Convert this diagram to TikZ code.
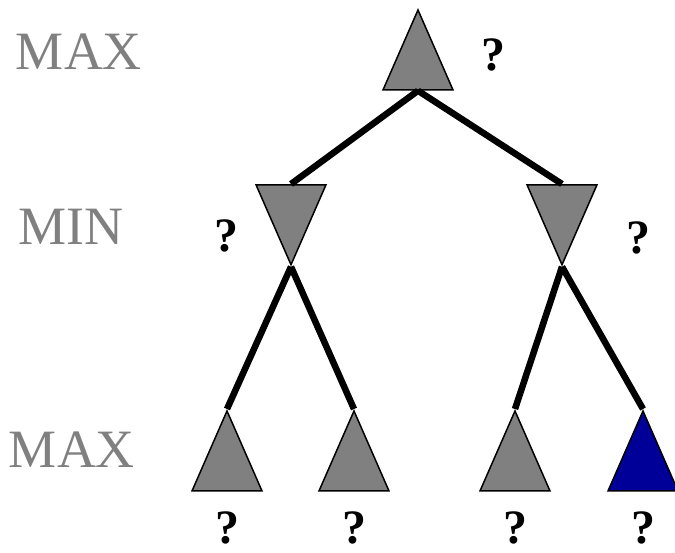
\documentclass[tikz,border=0pt]{standalone}
\usepackage{fontspec}
\setmainfont{Liberation Serif}
\usetikzlibrary{shapes.geometric}
\definecolor{nodegray}{RGB}{128,128,128}
\definecolor{nodeblue}{RGB}{0,0,153}
\tikzset{
  maxnode/.style={isosceles triangle, isosceles triangle stretches, shape border rotate=90,
    draw, line width=1.5pt, fill=nodegray, minimum width=70pt, minimum height=80pt,
    inner sep=0pt, anchor=north},
  minnode/.style={maxnode, shape border rotate=270},
  branch/.style={line width=6.5pt},
  qmark/.style={font=\fontsize{48}{48}\selectfont\bfseries, inner sep=0pt},
  levellabel/.style={text=nodegray, font=\fontsize{54}{54}\selectfont, inner sep=0pt}
}
\begin{document}
\begin{tikzpicture}[x=1pt,y=-1pt]
  \useasboundingbox (0,0) rectangle (675,552);
  % level labels
  \node[levellabel] (lmax) at (79,52) {MAX};
  \node[levellabel] (lmin) at (71,227) {MIN};
  \node[levellabel] (lmaxb) at (72,450) {MAX};
  % tree
  \node[maxnode] (root) at (418,8) {};
  \node[minnode] (l) at (291,184) {};
  \node[minnode] (r) at (562,184) {};
  \node[maxnode] (ll) at (227,409) {};
  \node[maxnode] (lr) at (354,409) {};
  \node[maxnode] (rl) at (515,409) {};
  \node[maxnode,fill=nodeblue] (rr) at (643,409) {};
  \draw[branch] (root.south) -- (l.north);
  \draw[branch] (root.south) -- (r.north);
  \draw[branch] (l.south) -- (ll.north);
  \draw[branch] (l.south) -- (lr.north);
  \draw[branch] (r.south) -- (rl.north);
  \draw[branch] (r.south) -- (rr.north);
  % values
  \node[qmark] (qroot) at (493,55) {?};
  \node[qmark] (ql) at (226,236) {?};
  \node[qmark] (qr) at (638,238) {?};
  \foreach \x/\n in {227/ll,354/lr,515/rl,643/rr}
    \node[qmark] (q\n) at (\x,528) {?};
\end{tikzpicture}
\end{document}
